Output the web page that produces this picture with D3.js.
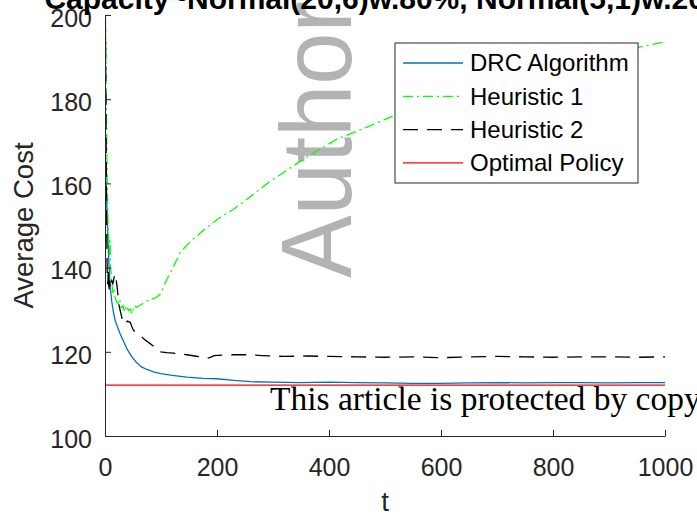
<!DOCTYPE html>
<html>
<head>
<meta charset="utf-8">
<script src="https://cdn.jsdelivr.net/npm/d3@7"></script>
<style>
  body { margin: 0; background: #fff; }
  svg { display: block; font-family: "Liberation Sans", Arial, sans-serif; }
</style>
</head>
<body>
<div id="chart"></div>
<script>
// series
const tDRC = [0, 1, 2, 3, 5, 7, 9, 12, 15, 18, 22, 27, 33, 40, 48, 56, 65, 75, 88, 100, 120, 146, 175, 200, 230, 260, 300, 350, 400, 450, 500, 550, 600, 650, 700, 750, 800, 850, 900, 950, 1000];
const costDRC = [100, 165, 160, 156, 148, 141, 136, 132, 129.5, 127.5, 126, 124.3, 122.5, 120.5, 118.8, 117.5, 116.4, 115.8, 115.2, 114.8, 114.4, 114.0, 113.7, 113.6, 113.2, 112.9, 112.8, 112.7, 112.8, 112.7, 112.6, 112.5, 112.5, 112.6, 112.7, 112.6, 112.7, 112.7, 112.6, 112.7, 112.7];

const tH1 = [0, 1, 2, 3, 4, 5, 6, 7, 8, 9, 10, 12, 14, 16, 18, 20, 23, 26, 29, 32, 35, 38, 42, 45, 48, 52, 56, 62, 70, 80, 90, 98, 105, 110, 116, 122, 128, 134, 145, 157, 175, 193, 210, 229, 253, 295, 354, 414, 470, 518, 600, 700, 800, 900, 952, 1000];
const costH1 = [205, 198, 185, 170, 160, 152, 147, 146, 143, 146.5, 140, 137, 134, 135, 133, 132, 131.5, 132.5, 130.5, 131, 129.5, 131, 129.8, 130.2, 129, 131, 130.6, 131, 131.7, 132.4, 132.8, 133.6, 135.5, 137.1, 138.6, 140.2, 141.8, 143.5, 145.2, 146.7, 148.8, 150.7, 152.3, 153.8, 156.2, 160.5, 165.7, 170.5, 173.5, 176.2, 180.2, 184.4, 187.9, 190.9, 192.3, 193.6];

const tH2 = [0, 1, 2, 3, 4, 5, 6, 7, 8, 10, 12, 14, 16, 18, 20, 22, 25, 28, 32, 36, 40, 45, 50, 55, 62, 70, 80, 90, 98, 110, 122, 135, 146, 160, 170, 180, 187, 195, 210, 230, 253, 280, 320, 360, 400, 450, 500, 550, 600, 650, 700, 750, 800, 850, 900, 950, 1000];
const costH2 = [205, 195, 170, 150, 138, 136, 140, 134, 137, 135, 137, 136, 137.5, 138.5, 137, 135, 131, 129.3, 127, 126.5, 127.3, 127, 125.3, 124.5, 124, 123, 122, 121, 120, 119.8, 119.7, 119.5, 119.3, 119, 118.8, 118.4, 118.6, 119.1, 119.2, 119.3, 119.3, 119.1, 118.9, 119.0, 118.9, 118.8, 118.7, 118.8, 118.6, 118.8, 118.9, 118.8, 118.7, 118.8, 118.8, 118.7, 118.8];

const tOpt = [0, 1000];
const costOpt = [112.1, 112.1];

const xTicks = [0, 200, 400, 600, 800, 1000];
const yTicks = [100, 120, 140, 160, 180, 200];

const seriesNames = ["DRC Algorithm", "Heuristic 1", "Heuristic 2", "Optimal Policy"];

const titleText = "Capacity~Normal(20,6)w.80%, Normal(5,1)w.20%";

const width = 697;
const height = 517;
const margin = { top: 15, right: 32, bottom: 81, left: 105 };

const svg = d3.select("#chart")
    .append("svg")
    .attr("width", width)
    .attr("height", height);

const x = d3.scaleLinear()
    .domain([0, 1000])
    .range([margin.left, width - margin.right]);

const y = d3.scaleLinear()
    .domain([100, 200])
    .range([height - margin.bottom, margin.top]);

// watermark behind everything
svg.append("text")
    .attr("transform", "translate(351, 278) rotate(-90) scale(0.94, 1)")
    .attr("font-size", 100)
    .attr("fill", "#b3b3b3")
    .text("Author");

svg.append("defs").append("clipPath")
    .attr("id", "plot-clip")
    .append("rect")
    .attr("x", margin.left)
    .attr("y", margin.top)
    .attr("width", width - margin.left - margin.right)
    .attr("height", height - margin.top - margin.bottom);

const line = d3.line()
    .x(d => x(d[0]))
    .y(d => y(d[1]));

const series = [
    { name: seriesNames[0], t: tDRC, v: costDRC, color: "#0072bd", dash: null },
    { name: seriesNames[1], t: tH1, v: costH1, color: "#00ff00", dash: "10,4,2,4" },
    { name: seriesNames[2], t: tH2, v: costH2, color: "#000000", dash: "15,9" },
    { name: seriesNames[3], t: tOpt, v: costOpt, color: "#ff0000", dash: null }
];

const plot = svg.append("g").attr("clip-path", "url(#plot-clip)");

series.forEach(s => {
    plot.append("path")
        .datum(s.t.map((t, i) => [t, s.v[i]]))
        .attr("fill", "none")
        .attr("stroke", s.color)
        .attr("stroke-width", 1.3)
        .attr("stroke-dasharray", s.dash)
        .attr("d", line);
});

// axes, MATLAB style: ticks pointing in, no box
const xAxis = svg.append("g")
    .attr("transform", `translate(0, ${height - margin.bottom})`)
    .call(d3.axisBottom(x).tickValues(xTicks).tickFormat(d3.format("d"))
        .tickSize(-6).tickPadding(22).tickSizeOuter(0));

const yAxis = svg.append("g")
    .attr("transform", `translate(${margin.left}, 0)`)
    .call(d3.axisLeft(y).tickValues(yTicks).tickFormat(d3.format("d"))
        .tickSize(-6).tickPadding(13).tickSizeOuter(0));

[xAxis, yAxis].forEach(g => {
    g.select(".domain").attr("stroke", "#262626");
    g.selectAll(".tick line").attr("stroke", "#262626");
    g.selectAll(".tick text")
        .attr("fill", "#262626")
        .attr("font-size", 25)
        .attr("font-family", "Liberation Sans, Arial, sans-serif");
});
yAxis.selectAll(".tick text").attr("dy", "0.45em");

// axis labels
svg.append("text")
    .attr("x", (x(0) + x(1000)) / 2)
    .attr("y", 511)
    .attr("text-anchor", "middle")
    .attr("font-size", 27.5)
    .attr("fill", "#262626")
    .text("t");

svg.append("text")
    .attr("transform", `translate(33, ${(y(100) + y(200)) / 2}) rotate(-90)`)
    .attr("text-anchor", "middle")
    .attr("font-size", 27.5)
    .attr("fill", "#262626")
    .text("Average Cost");

// title, clipped by the top of the picture
svg.append("text")
    .attr("x", 388)
    .attr("y", 9)
    .attr("text-anchor", "middle")
    .attr("font-size", 30)
    .attr("font-weight", "bold")
    .attr("fill", "#000")
    .text(titleText);

// legend
const legend = svg.append("g").attr("transform", "translate(395, 43)");
legend.append("rect")
    .attr("width", 243)
    .attr("height", 140)
    .attr("fill", "#fff")
    .attr("stroke", "#262626")
    .attr("stroke-width", 1);

series.forEach((s, i) => {
    const ly = 20 + i * 33.3;
    legend.append("line")
        .attr("x1", 8).attr("x2", 68)
        .attr("y1", ly).attr("y2", ly)
        .attr("stroke", s.color)
        .attr("stroke-width", 1.3)
        .attr("stroke-dasharray", s.dash);
    legend.append("text")
        .attr("x", 75)
        .attr("y", ly)
        .attr("dy", "0.35em")
        .attr("font-size", 24)
        .attr("fill", "#000")
        .text(s.name);
});

// copyright watermark
svg.append("text")
    .attr("x", 270)
    .attr("y", 410)
    .attr("font-family", "Liberation Serif, 'DejaVu Serif', serif")
    .attr("font-size", 33.5)
    .attr("fill", "#000")
    .text("This article is protected by copyright. All rights reserved");
</script>
</body>
</html>
